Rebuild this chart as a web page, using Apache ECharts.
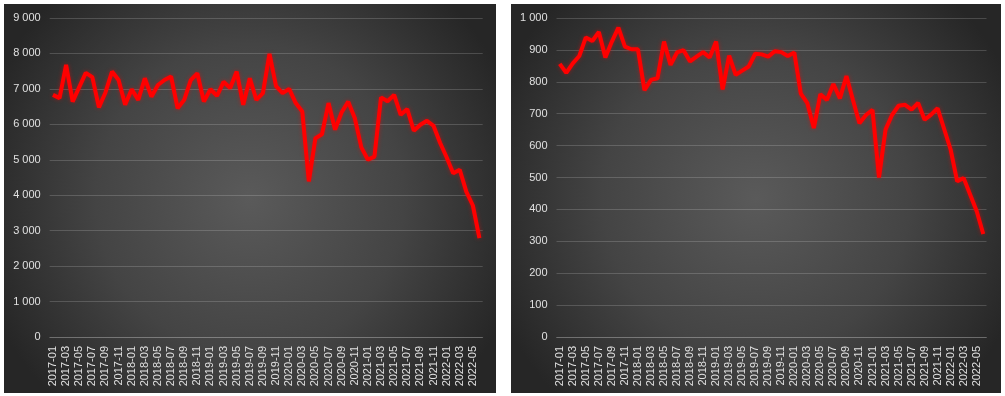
<!DOCTYPE html>
<html>
<head>
<meta charset="utf-8">
<script src="https://cdn.jsdelivr.net/npm/echarts@6/dist/echarts.min.js"></script>
<style>
html,body{margin:0;padding:0;background:#ffffff;}
#c{width:1005px;height:396px;}
</style>
</head>
<body>
<div id="c"></div>
<script>
// Monthly categories 2017-01 .. 2022-06
const months = [];
for (let y = 2017; y <= 2022; y++) {
  for (let m = 1; m <= 12; m++) {
    if (y === 2022 && m > 6) break;
    months.push(y + '-' + (m < 10 ? '0' + m : '' + m));
  }
}
const leftValues = [
  6830, 6740, 7680, 6640, 7050, 7450, 7330, 6480, 6900, 7490, 7250, 6550,
  6990, 6690, 7300, 6780, 7110, 7250, 7350, 6450, 6690, 7250, 7440, 6640,
  6990, 6800, 7200, 7020, 7490, 6550, 7300, 6690, 6880, 7990, 7080, 6880,
  7000, 6600, 6360, 4390, 5610, 5720, 6600, 5850, 6340, 6640, 6180, 5350,
  5000, 5090, 6760, 6650, 6830, 6270, 6430, 5820, 5990, 6100, 5960, 5480,
  5070, 4620, 4720, 4100, 3710, 2790
];
const rightValues = [
  856, 828, 858, 881, 939, 928, 956, 876, 926, 970, 910, 902,
  902, 774, 806, 811, 926, 853, 892, 899, 864, 879, 893, 876,
  926, 776, 882, 822, 835, 848, 888, 886, 879, 896, 893, 881,
  892, 763, 733, 655, 761, 743, 793, 748, 818, 743, 670, 696,
  712, 500, 650, 696, 725, 728, 713, 734, 681, 697, 717, 652,
  587, 488, 498, 446, 394, 323
];
const leftTicks = [0, 9000, 1000];   // min, max, interval
const rightTicks = [0, 1000, 100];

function fmt(v) {
  return String(v).replace(/\B(?=(\d{3})+(?!\d))/g, ' ');
}

const chart = echarts.init(document.getElementById('c'), null, {renderer: 'canvas'});

function bg(x, y, w, h) {
  return {
    type: 'rect', z: -10, silent: true,
    shape: {x: x, y: y, width: w, height: h},
    style: {
      fill: new echarts.graphic.RadialGradient(0.5, 0.5, 0.72, [
        {offset: 0, color: '#5a5a5a'},
        {offset: 0.55, color: '#444444'},
        {offset: 1, color: '#262626'}
      ])
    }
  };
}

const axisLabelX = {
  interval: 1, rotate: 90, color: '#e0e0e0', fontSize: 11,
  fontFamily: 'Liberation Sans, Arial, sans-serif', margin: 9
};
const axisLabelY = {
  color: '#e0e0e0', fontSize: 11,
  fontFamily: 'Liberation Sans, Arial, sans-serif', margin: 9,
  formatter: fmt
};
const splitLine = {show: true, lineStyle: {color: 'rgba(255,255,255,0.17)', width: 1}};

function xAxis(gi) {
  return {
    type: 'category', gridIndex: gi, data: months, boundaryGap: true,
    axisLine: {show: true, lineStyle: {color: 'rgba(255,255,255,0.17)'}},
    axisTick: {show: false}, axisLabel: axisLabelX
  };
}
function yAxis(gi, t) {
  return {
    type: 'value', gridIndex: gi, min: t[0], max: t[1], interval: t[2],
    axisLine: {show: false}, axisTick: {show: false},
    axisLabel: axisLabelY, splitLine: splitLine
  };
}
function line(gi, vals) {
  return {
    type: 'line', xAxisIndex: gi, yAxisIndex: gi, data: vals,
    showSymbol: false, symbol: 'none', smooth: false,
    lineStyle: {color: '#ff0000', width: 4, shadowColor: 'rgba(255,0,0,0.45)', shadowBlur: 4},
    itemStyle: {color: '#ff0000'}
  };
}

chart.setOption({
  animation: false,
  backgroundColor: '#ffffff',
  graphic: [bg(4, 4, 492, 389), bg(511, 4, 490, 389)],
  grid: [
    {left: 49.7, top: 18, width: 433, height: 319, containLabel: false},
    {left: 556.5, top: 18, width: 430, height: 319, containLabel: false}
  ],
  xAxis: [xAxis(0), xAxis(1)],
  yAxis: [yAxis(0, leftTicks), yAxis(1, rightTicks)],
  series: [line(0, leftValues), line(1, rightValues)]
});
</script>
</body>
</html>
